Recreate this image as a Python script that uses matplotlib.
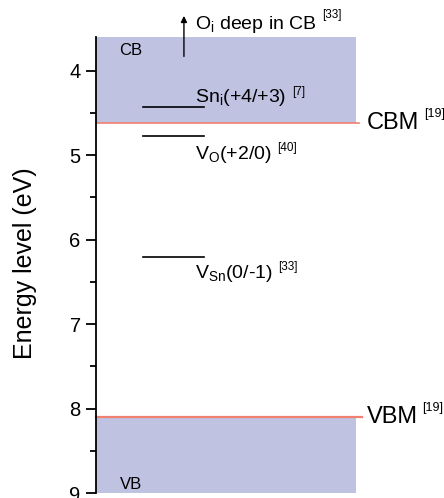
import matplotlib
matplotlib.use("Agg")
import matplotlib.pyplot as plt
from matplotlib.ticker import MultipleLocator

plt.rcParams["font.family"] = ["Liberation Sans", "DejaVu Sans"]
plt.rcParams["mathtext.fontset"] = "custom"
plt.rcParams["mathtext.rm"] = "Liberation Sans"
plt.rcParams["mathtext.it"] = "Liberation Sans:italic"

# band edges (eV)
cbm = 4.62
vbm = 8.10
e_top = 3.6
e_bottom = 9.0

# defect levels (eV)
levels = [4.43, 4.77, 6.20]
level_labels = [
    r"Sn$_\mathregular{i}$(+4/+3)",
    r"V$_\mathregular{O}$(+2/0)",
    r"V$_\mathregular{Sn}$(0/-1)",
]
level_refs = ["[7]", "[40]", "[33]"]
label_offsets = [-0.06, 0.27, 0.25]

band_color = "#bfc3e1"
edge_color = "#f08070"


def with_ref(txt, ref, dx=4, dy=2, size=8.5):
    # small reference number in brackets, placed after the main text
    ax.annotate(ref, xy=(1, 1), xycoords=txt, xytext=(dx, dy),
                textcoords="offset points", fontsize=size,
                ha="left", va="top", annotation_clip=False)


fig = plt.figure(figsize=(4.44, 4.98), dpi=100)
ax = fig.add_axes([0.216, 0.01, 0.599, 0.9157])

# bands
ax.axhspan(e_top, cbm, xmin=0, xmax=0.977, color=band_color, lw=0)
ax.axhspan(vbm, e_bottom, xmin=0, xmax=0.977, color=band_color, lw=0)
ax.plot([0, 0.99], [cbm, cbm], color=edge_color, lw=1.2, clip_on=False)
ax.plot([0, 1.0], [vbm, vbm], color=edge_color, lw=1.6, clip_on=False)

# defect levels
for e, lab, ref, off in zip(levels, level_labels, level_refs, label_offsets):
    ax.plot([0.177, 0.406], [e, e], color="black", lw=1.2)
    t = ax.text(0.372, e + off, lab, fontsize=14, ha="left", va="baseline")
    with_ref(t, ref, dy=1)

# O_i arrow
ax.annotate("", xy=(0.331, 3.35), xytext=(0.331, 3.83),
            arrowprops=dict(arrowstyle="-|>", color="black", lw=1,
                            mutation_scale=9, shrinkA=0, shrinkB=0),
            annotation_clip=False)
t = ax.text(0.372, 3.5, r"O$_\mathregular{i}$ deep in CB",
            fontsize=14, ha="left", va="baseline", clip_on=False)
with_ref(t, "[33]", dy=3)

ax.text(0.087, 3.76, "CB", fontsize=12, ha="left", va="center")
ax.text(0.09, 8.9, "VB", fontsize=12, ha="left", va="center")
t = ax.text(1.02, cbm, "CBM", fontsize=17, ha="left", va="center", clip_on=False)
with_ref(t, "[19]", dx=3, dy=3, size=9)
t = ax.text(1.02, vbm, "VBM", fontsize=17, ha="left", va="center", clip_on=False)
with_ref(t, "[19]", dx=3, dy=3, size=9)

ax.set_xlim(0, 1)
ax.set_ylim(e_bottom, e_top)
ax.yaxis.set_major_locator(MultipleLocator(1))
ax.yaxis.set_minor_locator(MultipleLocator(0.5))
ax.tick_params(axis="y", which="major", length=7, width=1.3, labelsize=14.5, pad=4)
ax.tick_params(axis="y", which="minor", length=4, width=1.3)
ax.set_xticks([])
for s in ["top", "right", "bottom"]:
    ax.spines[s].set_visible(False)
ax.spines["left"].set_linewidth(1.3)
ax.set_ylabel("Energy level (eV)", fontsize=18)
ax.yaxis.set_label_coords(-0.222, 0.504)
ax.patch.set_alpha(0)

fig.savefig("out.png", dpi=100)
